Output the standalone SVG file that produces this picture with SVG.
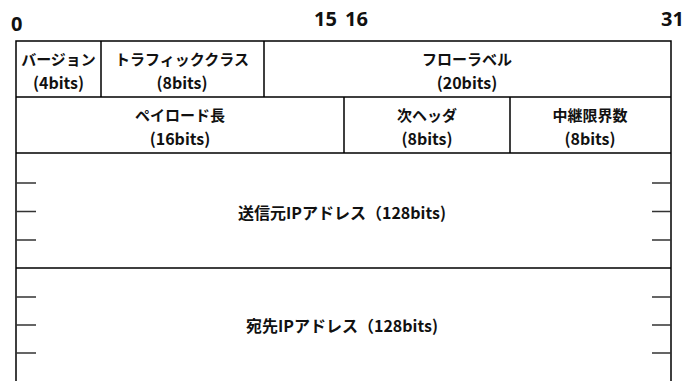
<svg xmlns="http://www.w3.org/2000/svg" width="687" height="381" viewBox="0 0 687 381">
<style>
.ln{stroke:#000;stroke-width:1.5;fill:none}
.tk{stroke:#333;stroke-width:1.5}
.lb{font-family:"Noto Sans CJK JP","Noto Sans",sans-serif;font-weight:bold;font-size:15px;fill:#111;text-anchor:middle}
.bt{font-size:16px}
.ad{font-size:16px}
.nm{font-family:"Noto Sans","Liberation Sans",sans-serif;font-weight:bold;font-size:20px;fill:#111}
</style>
<rect width="687" height="381" fill="#fff"/>
<g id="bitnumbers">
<text class="nm" x="11" y="31">0</text>
<text class="nm" x="314" y="26">15</text>
<text class="nm" x="345" y="26">16</text>
<text class="nm" x="661" y="26">31</text>
</g>
<g id="frame">
<path class="ln" d="M16,381 V41 H671 V381"/>
<path class="ln" d="M16,97 H671 M16,153 H671 M16,268 H671"/>
<path class="ln" d="M101,41 V97 M264,41 V97 M344,97 V153 M510,97 V153"/>
</g>
<g id="ticks">
<path class="tk" d="M16,183 H36 M16,211.5 H36 M16,240 H36 M16,297 H36 M16,325 H36 M16,353 H36"/>
<path class="tk" d="M652,183 H671 M652,211.5 H671 M652,240 H671 M652,297 H671 M652,325 H671 M652,353 H671"/>
</g>
<g id="version"><text class="lb" x="58.5" y="65">バージョン</text><text class="lb bt" x="58.5" y="89">(4bits)</text></g>
<g id="trafficclass"><text class="lb" x="182" y="65">トラフィッククラス</text><text class="lb bt" x="182" y="89">(8bits)</text></g>
<g id="flowlabel"><text class="lb" x="467" y="65">フローラベル</text><text class="lb bt" x="467" y="89">(20bits)</text></g>
<g id="payloadlength"><text class="lb" x="180" y="121">ペイロード長</text><text class="lb bt" x="180" y="145">(16bits)</text></g>
<g id="nextheader"><text class="lb" x="427" y="121">次ヘッダ</text><text class="lb bt" x="427" y="145">(8bits)</text></g>
<g id="hoplimit"><text class="lb" x="590" y="121">中継限界数</text><text class="lb bt" x="590" y="145">(8bits)</text></g>
<g id="srcaddr"><text class="lb ad" x="342" y="219">送信元IPアドレス（128bits)</text></g>
<g id="dstaddr"><text class="lb ad" x="342" y="332">宛先IPアドレス（128bits)</text></g>
<g id="connectors"/>
</svg>
